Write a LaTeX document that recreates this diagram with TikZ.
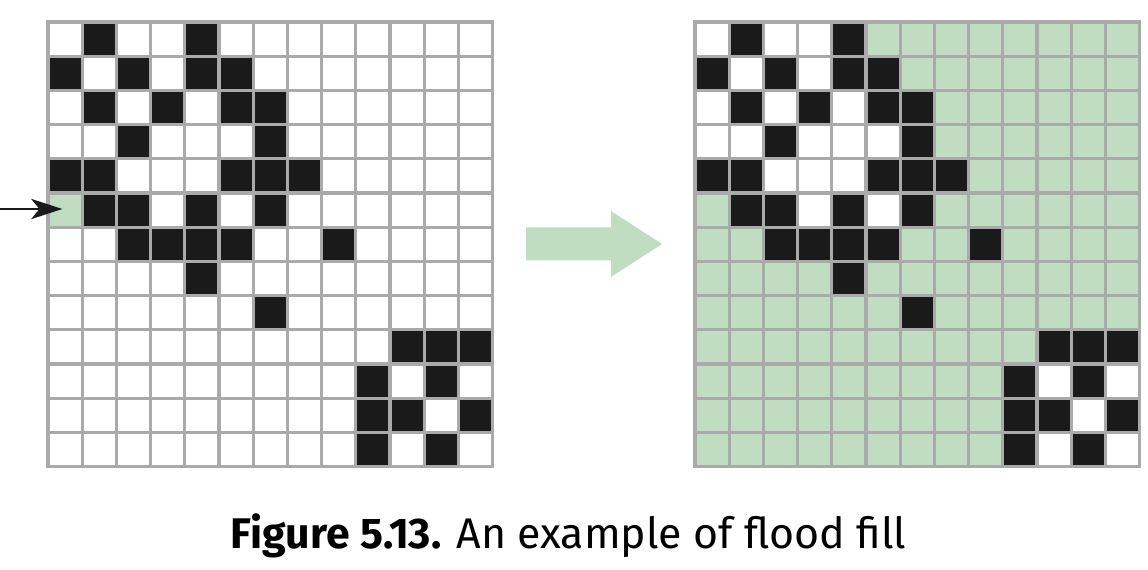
\documentclass[tikz,border=0pt]{standalone}
\usepackage{fontspec}
\setmainfont{Fira Sans}
\usetikzlibrary{arrows.meta}
\definecolor{V}{RGB}{192, 221, 194}
\definecolor{N}{RGB}{26, 26, 26}
\definecolor{L}{RGB}{170, 170, 170}

% celdas negras (columna/fila)
\newcommand{\negras}{1/0,4/0,0/1,2/1,4/1,5/1,1/2,3/2,5/2,6/2,2/3,6/3,0/4,1/4,5/4,6/4,7/4,1/5,2/5,4/5,6/5,2/6,3/6,4/6,5/6,8/6,4/7,6/8,10/9,11/9,12/9,9/10,11/10,9/11,10/11,12/11,9/12,11/12}
% celdas blancas que no se rellenan
\newcommand{\blancas}{0/0,2/0,3/0,1/1,3/1,0/2,2/2,4/2,0/3,1/3,3/3,4/3,5/3,2/4,3/4,4/4,3/5,5/5,10/10,12/10,11/11,10/12,12/12}

\begin{document}
\begin{tikzpicture}[x=0.02cm, y=-0.02cm]
   	\useasboundingbox (0,0) rectangle (1148,570);

	%Rejilla izquierda
	\begin{scope}[shift={(48,22)}, x=0.684cm, y=-0.684cm]
   		\fill[color=V] (0,5) rectangle (1,6);
   		\foreach \c/\r in \negras
   			\fill[color=N] (\c,\r) rectangle ++(1,1);
   		\foreach \i in {0,...,13} {
   			\draw[color=L, line width=1.8pt, line cap=rect] (\i,0) -- (\i,13);
   			\draw[color=L, line width=1.8pt, line cap=rect] (0,\i) -- (13,\i);
   		}
   		\coordinate (inicio) at (0.42,5.5);
	\end{scope}

	%Rejilla derecha (rellena)
	\begin{scope}[shift={(695,22)}, x=0.684cm, y=-0.684cm]
   		\fill[color=V] (0,0) rectangle (13,13);
   		\foreach \c/\r in \blancas
   			\fill[color=white] (\c,\r) rectangle ++(1,1);
   		\foreach \c/\r in \negras
   			\fill[color=N] (\c,\r) rectangle ++(1,1);
   		\foreach \i in {0,...,13} {
   			\draw[color=L, line width=1.8pt, line cap=rect] (\i,0) -- (\i,13);
   			\draw[color=L, line width=1.8pt, line cap=rect] (0,\i) -- (13,\i);
   		}
	\end{scope}

	%Flecha de inicio
	\coordinate (origen) at (0,209);
	\draw[color=N, line width=1.7pt, -{Stealth[length=0.62cm, width=0.4cm, inset=0.16cm]}] (origen) -- (origen -| inicio);

	%Flecha central
	\fill[color=V] (526,227.5) -- (611,227.5) -- (611,211) -- (662,244) -- (611,277) -- (611,260.5) -- (526,260.5) -- cycle;

	%Titulo
	\node[anchor=base, inner sep=0pt, font=\fontsize{24.4}{29}\selectfont] (titulo) at (568.5,548) {\textbf{Figure 5.13.} An example of flood fill};
\end{tikzpicture}
\end{document}
